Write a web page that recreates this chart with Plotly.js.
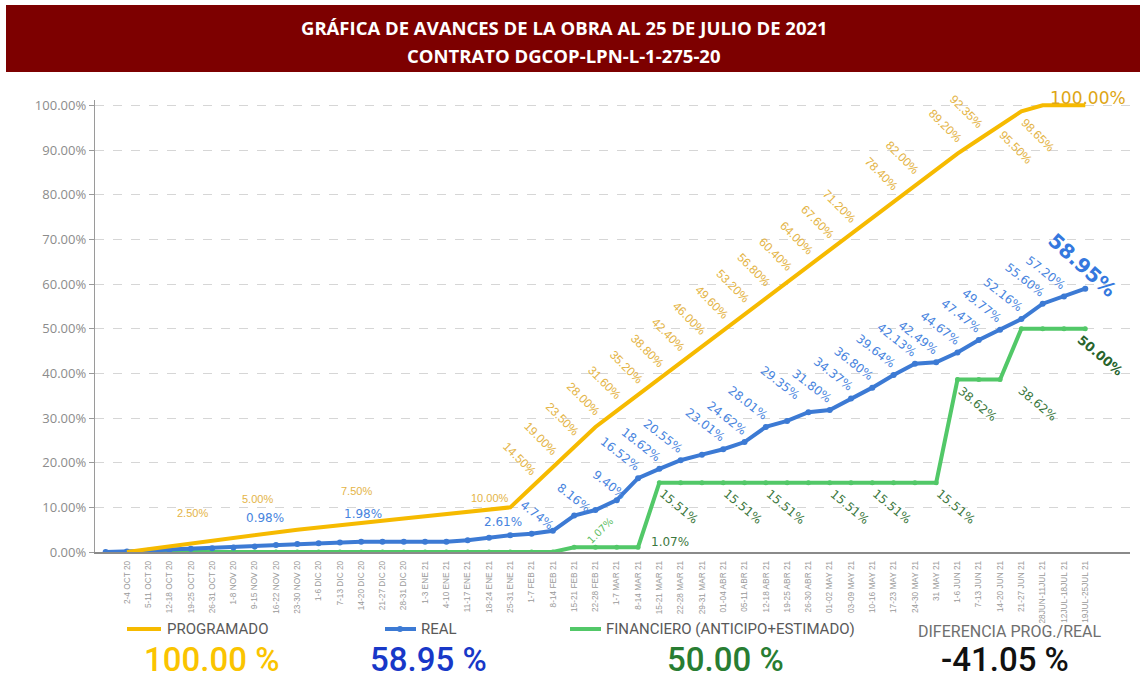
<!DOCTYPE html>
<html>
<head>
<meta charset="utf-8">
<script src="https://cdn.plot.ly/plotly-3.0.1.min.js"></script>
<style>html,body{margin:0;padding:0;background:#fff;}#chart{width:1148px;height:681px;}</style>
</head>
<body>
<div id="chart"></div>
<script>
// ---------------- DATA ----------------
const semanas = ["", "2-4 OCT 20", "5-11 OCT 20", "12-18 OCT 20", "19-25 OCT 20", "26-31 OCT 20",
  "1-8 NOV 20", "9-15 NOV 20", "16-22 NOV 20", "23-30 NOV 20",
  "1-6 DIC 20", "7-13 DIC 20", "14-20 DIC 20", "21-27 DIC 20", "28-31 DIC 20",
  "1-3 ENE 21", "4-10 ENE 21", "11-17 ENE 21", "18-24 ENE 21", "25-31 ENE 21",
  "1-7 FEB 21", "8-14 FEB 21", "15-21 FEB 21", "22-28 FEB 21",
  "1-7 MAR 21", "8-14 MAR 21", "15-21 MAR 21", "22-28 MAR 21", "29-31 MAR 21",
  "01-04 ABR 21", "05-11 ABR 21", "12-18 ABR 21", "19-25 ABR 21", "26-30 ABR 21",
  "01-02 MAY 21", "03-09 MAY 21", "10-16 MAY 21", "17-23 MAY 21", "24-30 MAY 21", "31 MAY 21",
  "1-6 JUN 21", "7-13 JUN 21", "14-20 JUN 21", "21-27 JUN 21",
  "28JUN-11JUL 21", "12JUL-18JUL 21", "19JUL-25JUL 21"];

const programado = [null, 0, null, null, null, 2.5, null, null, null, 5.0,
  null, null, null, null, 7.5, null, null, null, null, 10.0,
  14.5, 19.0, 23.5, 28.0, 31.6, 35.2, 38.8, 42.4, 46.0, 49.6,
  53.2, 56.8, 60.4, 64.0, 67.6, 71.2, 74.8, 78.4, 82.0, 85.6,
  89.2, 92.35, 95.5, 98.65, 100.0, 100.0, 100.0];

const real = [0, 0.10, 0.30, 0.55, 0.75, 0.85, 0.98, 1.25, 1.55, 1.80,
  1.98, 2.10, 2.30, 2.30, 2.30, 2.30, 2.30, 2.61, 3.20, 3.75,
  4.10, 4.74, 8.16, 9.40, 11.60, 16.52, 18.62, 20.55, 21.80, 23.01,
  24.62, 28.01, 29.35, 31.30, 31.80, 34.37, 36.80, 39.64, 42.13, 42.49,
  44.67, 47.47, 49.77, 52.16, 55.60, 57.20, 58.95];

const financiero = [null, 0, 0, 0, 0, 0, 0, 0, 0, 0,
  0, 0, 0, 0, 0, 0, 0, 0, 0, 0,
  0, 0, 1.07, 1.07, 1.07, 1.07, 15.51, 15.51, 15.51, 15.51,
  15.51, 15.51, 15.51, 15.51, 15.51, 15.51, 15.51, 15.51, 15.51, 15.51,
  38.62, 38.62, 38.62, 50.0, 50.0, 50.0, 50.0];

// points whose value is written on the chart
const programadoEtiquetas = [5, 9, 14, 19, 20, 21, 22, 23, 24, 25, 26, 27, 28, 29, 30, 31, 32, 33, 34, 35, 37, 38, 40, 41, 42, 43, 46];
const realEtiquetas = [6, 10, 17, 21, 22, 23, 25, 26, 27, 29, 30, 31, 32, 34, 35, 36, 37, 38, 39, 40, 41, 42, 43, 44, 45, 46];
const financieroEtiquetas = [22, 25, 26, 29, 31, 34, 36, 39, 40, 42, 46];

const resumenTitulos = ["PROGRAMADO", "REAL", "FINANCIERO (ANTICIPO+ESTIMADO)", "DIFERENCIA PROG./REAL"];
const resumenValores = [100.00, 58.95, 50.00, -41.05];

const titulo1 = "GRÁFICA DE AVANCES DE LA OBRA AL 25 DE JULIO DE 2021";
const titulo2 = "CONTRATO DGCOP-LPN-L-1-275-20";

// ---------------- LAYOUT HELPERS ----------------
const W = 1148, H = 681, ML = 95, MR = 18, MT = 100, MB = 129;
const PW = W - ML - MR, PH = H - MT - MB;
const px2x = p => (p - ML) / PW;
const px2y = p => (H - MB - p) / PH;

const C_PROG = 'rgb(246,186,0)';
const C_REAL = 'rgb(60,122,212)';
const C_FIN = 'rgb(82,200,104)';

const idx = semanas.map((_, i) => i);

const traces = [
  {x: idx, y: financiero, mode: 'lines+markers', connectgaps: false,
   line: {color: C_FIN, width: 4}, marker: {color: C_FIN, size: 5}, name: 'FINANCIERO', hoverinfo: 'skip'},
  {x: idx, y: real, mode: 'lines+markers',
   line: {color: C_REAL, width: 4}, marker: {color: C_REAL, size: 6}, name: 'REAL', hoverinfo: 'skip'},
  {x: idx, y: programado, mode: 'lines', connectgaps: true,
   line: {color: C_PROG, width: 4}, name: 'PROGRAMADO', hoverinfo: 'skip'}
];

const ann = [];
function fmt(v) { return v.toFixed(2) + '%'; }
function label(i, v, o) {
  ann.push({x: i, y: v, xref: 'x', yref: 'y', text: o.text || fmt(v), showarrow: false,
    xanchor: 'center', yanchor: 'middle', xshift: o.dx, yshift: -o.dy,
    textangle: o.angle, font: {family: o.family, size: o.size, color: o.color, weight: o.weight || 'normal'}});
}

// Programado labels
const progOver = {5: {dx: -20, dy: -28, angle: 0, size: 11}, 9: {dx: -40, dy: -31, angle: 0, size: 11},
  14: {dx: -47, dy: -28, angle: 0, size: 11}, 19: {dx: -20, dy: -9, angle: 0, size: 11},
  42: {dx: 15, dy: 22}, 43: {dx: 16, dy: 24},
  46: {dx: 3, dy: -7, angle: 0, size: 17, family: 'DejaVu Sans', color: 'rgb(222,166,20)'}};
programadoEtiquetas.forEach(i => {
  const o = Object.assign({dx: -12, dy: -28, angle: 45, size: 12, family: 'Liberation Sans', color: 'rgb(228,180,70)'}, progOver[i] || {});
  label(i, programado[i], o);
});

// Real labels
const realOver = {6: {dx: 32, dy: -30, angle: 0}, 10: {dx: 44, dy: -29, angle: 0}, 17: {dx: 35, dy: -18, angle: 0},
  21: {dx: -16, dy: -16}, 22: {dx: 0, dy: -18}, 23: {dx: 14, dy: -25}, 32: {dx: -7, dy: -38},
  46: {dx: -3, dy: -24, angle: 42, size: 20, weight: 'bold', color: 'rgb(52,120,222)'}};
realEtiquetas.forEach(i => {
  const o = Object.assign({dx: -18, dy: -24, angle: 38, size: 12, family: 'DejaVu Sans', color: 'rgb(72,132,222)'}, realOver[i] || {});
  label(i, real[i], o);
});

// Financiero labels
const finOver = {22: {dx: 26, dy: -17, angle: -45, size: 10, color: 'rgb(96,190,100)'},
  25: {dx: 32, dy: -5, angle: 0}, 42: {dx: 38, dy: 24},
  46: {dx: 15, dy: 27, size: 13, weight: 'bold', color: 'rgb(40,100,45)'}};
financieroEtiquetas.forEach(i => {
  const o = Object.assign({dx: 20, dy: 24, angle: 40, size: 12, family: 'DejaVu Sans', color: 'rgb(60,120,62)'}, finOver[i] || {});
  label(i, financiero[i], o);
});

// Header
const shapes = [
  {type: 'rect', xref: 'paper', yref: 'paper', x0: px2x(6), x1: px2x(1140), y0: px2y(72), y1: px2y(5),
   fillcolor: 'rgb(125,0,0)', line: {width: 0}, layer: 'above'}
];
ann.push({xref: 'paper', yref: 'paper', x: px2x(564), y: px2y(28), text: titulo1, showarrow: false,
  xanchor: 'center', yanchor: 'middle', font: {family: 'Open Sans', size: 18.5, color: '#ffffff', weight: 'bold'}});
ann.push({xref: 'paper', yref: 'paper', x: px2x(564), y: px2y(55), text: titulo2, showarrow: false,
  xanchor: 'center', yanchor: 'middle', font: {family: 'Open Sans', size: 18.5, color: '#ffffff', weight: 'bold'}});

// Bottom legend & summary
const NARROW = 'Roboto, sans-serif';
const legY = 629, bigY = 659;
const legend = [
  {x0: 127, x1: 161, tx: 165, color: C_PROG, dot: false},
  {x0: 385, x1: 416, tx: 419, color: C_REAL, dot: true},
  {x0: 570, x1: 601, tx: 604, color: C_FIN, dot: false}
];
legend.forEach((l, k) => {
  shapes.push({type: 'line', xref: 'paper', yref: 'paper', x0: px2x(l.x0), x1: px2x(l.x1), y0: px2y(legY), y1: px2y(legY),
    line: {color: l.color, width: 4}});
  if (l.dot) shapes.push({type: 'circle', xref: 'paper', yref: 'paper', x0: px2x(397), x1: px2x(403), y0: px2y(legY + 3), y1: px2y(legY - 3),
    fillcolor: l.color, line: {width: 0}});
  ann.push({xref: 'paper', yref: 'paper', x: px2x(l.tx), y: px2y(legY), text: resumenTitulos[k], showarrow: false,
    xanchor: 'left', yanchor: 'middle', font: {family: NARROW, size: 15, color: '#595959'}});
});
ann.push({xref: 'paper', yref: 'paper', x: px2x(1010), y: px2y(legY + 2), text: resumenTitulos[3], showarrow: false,
  xanchor: 'center', yanchor: 'middle', font: {family: NARROW, size: 16, color: '#6f6f6f'}});

const bigCols = ['rgb(250,196,0)', 'rgb(24,56,200)', 'rgb(40,125,50)', '#111111'];
const bigX = [211, 428, 725, 1005];
resumenValores.forEach((v, k) => {
  ann.push({xref: 'paper', yref: 'paper', x: px2x(bigX[k]), y: px2y(bigY), text: v.toFixed(2) + ' %', showarrow: false,
    xanchor: 'center', yanchor: 'middle', font: {family: NARROW, size: 33, color: bigCols[k], weight: 500}});
});

const layout = {
  width: W, height: H,
  margin: {l: ML, r: MR, t: MT, b: MB, pad: 0},
  paper_bgcolor: '#ffffff', plot_bgcolor: '#ffffff',
  showlegend: false,
  xaxis: {range: [-0.5, 48.1], tickmode: 'array', tickvals: idx, ticktext: semanas, tickangle: -90,
    tickfont: {family: 'Liberation Sans', size: 8.3, color: '#9a9a9a'}, showgrid: false, zeroline: false,
    showline: true, linecolor: '#8a8a8a', linewidth: 1.5, ticks: 'outside', ticklen: 4, tickcolor: 'rgba(0,0,0,0)', fixedrange: true},
  yaxis: {range: [0, 101.2], tickmode: 'linear', tick0: 0, dtick: 10, tickformat: '.2f', ticksuffix: '%',
    tickfont: {family: 'Open Sans', size: 13, color: '#8c8c8c'}, showgrid: true, gridcolor: '#d6d6d6', griddash: 'dash', gridwidth: 1,
    zeroline: false, showline: true, linecolor: '#9a9a9a', linewidth: 1.2, ticks: 'outside', ticklen: 5, tickcolor: '#9a9a9a'},
  shapes: shapes,
  annotations: ann
};

Plotly.newPlot('chart', traces, layout, {displayModeBar: false, staticPlot: true});
</script>
</body>
</html>
